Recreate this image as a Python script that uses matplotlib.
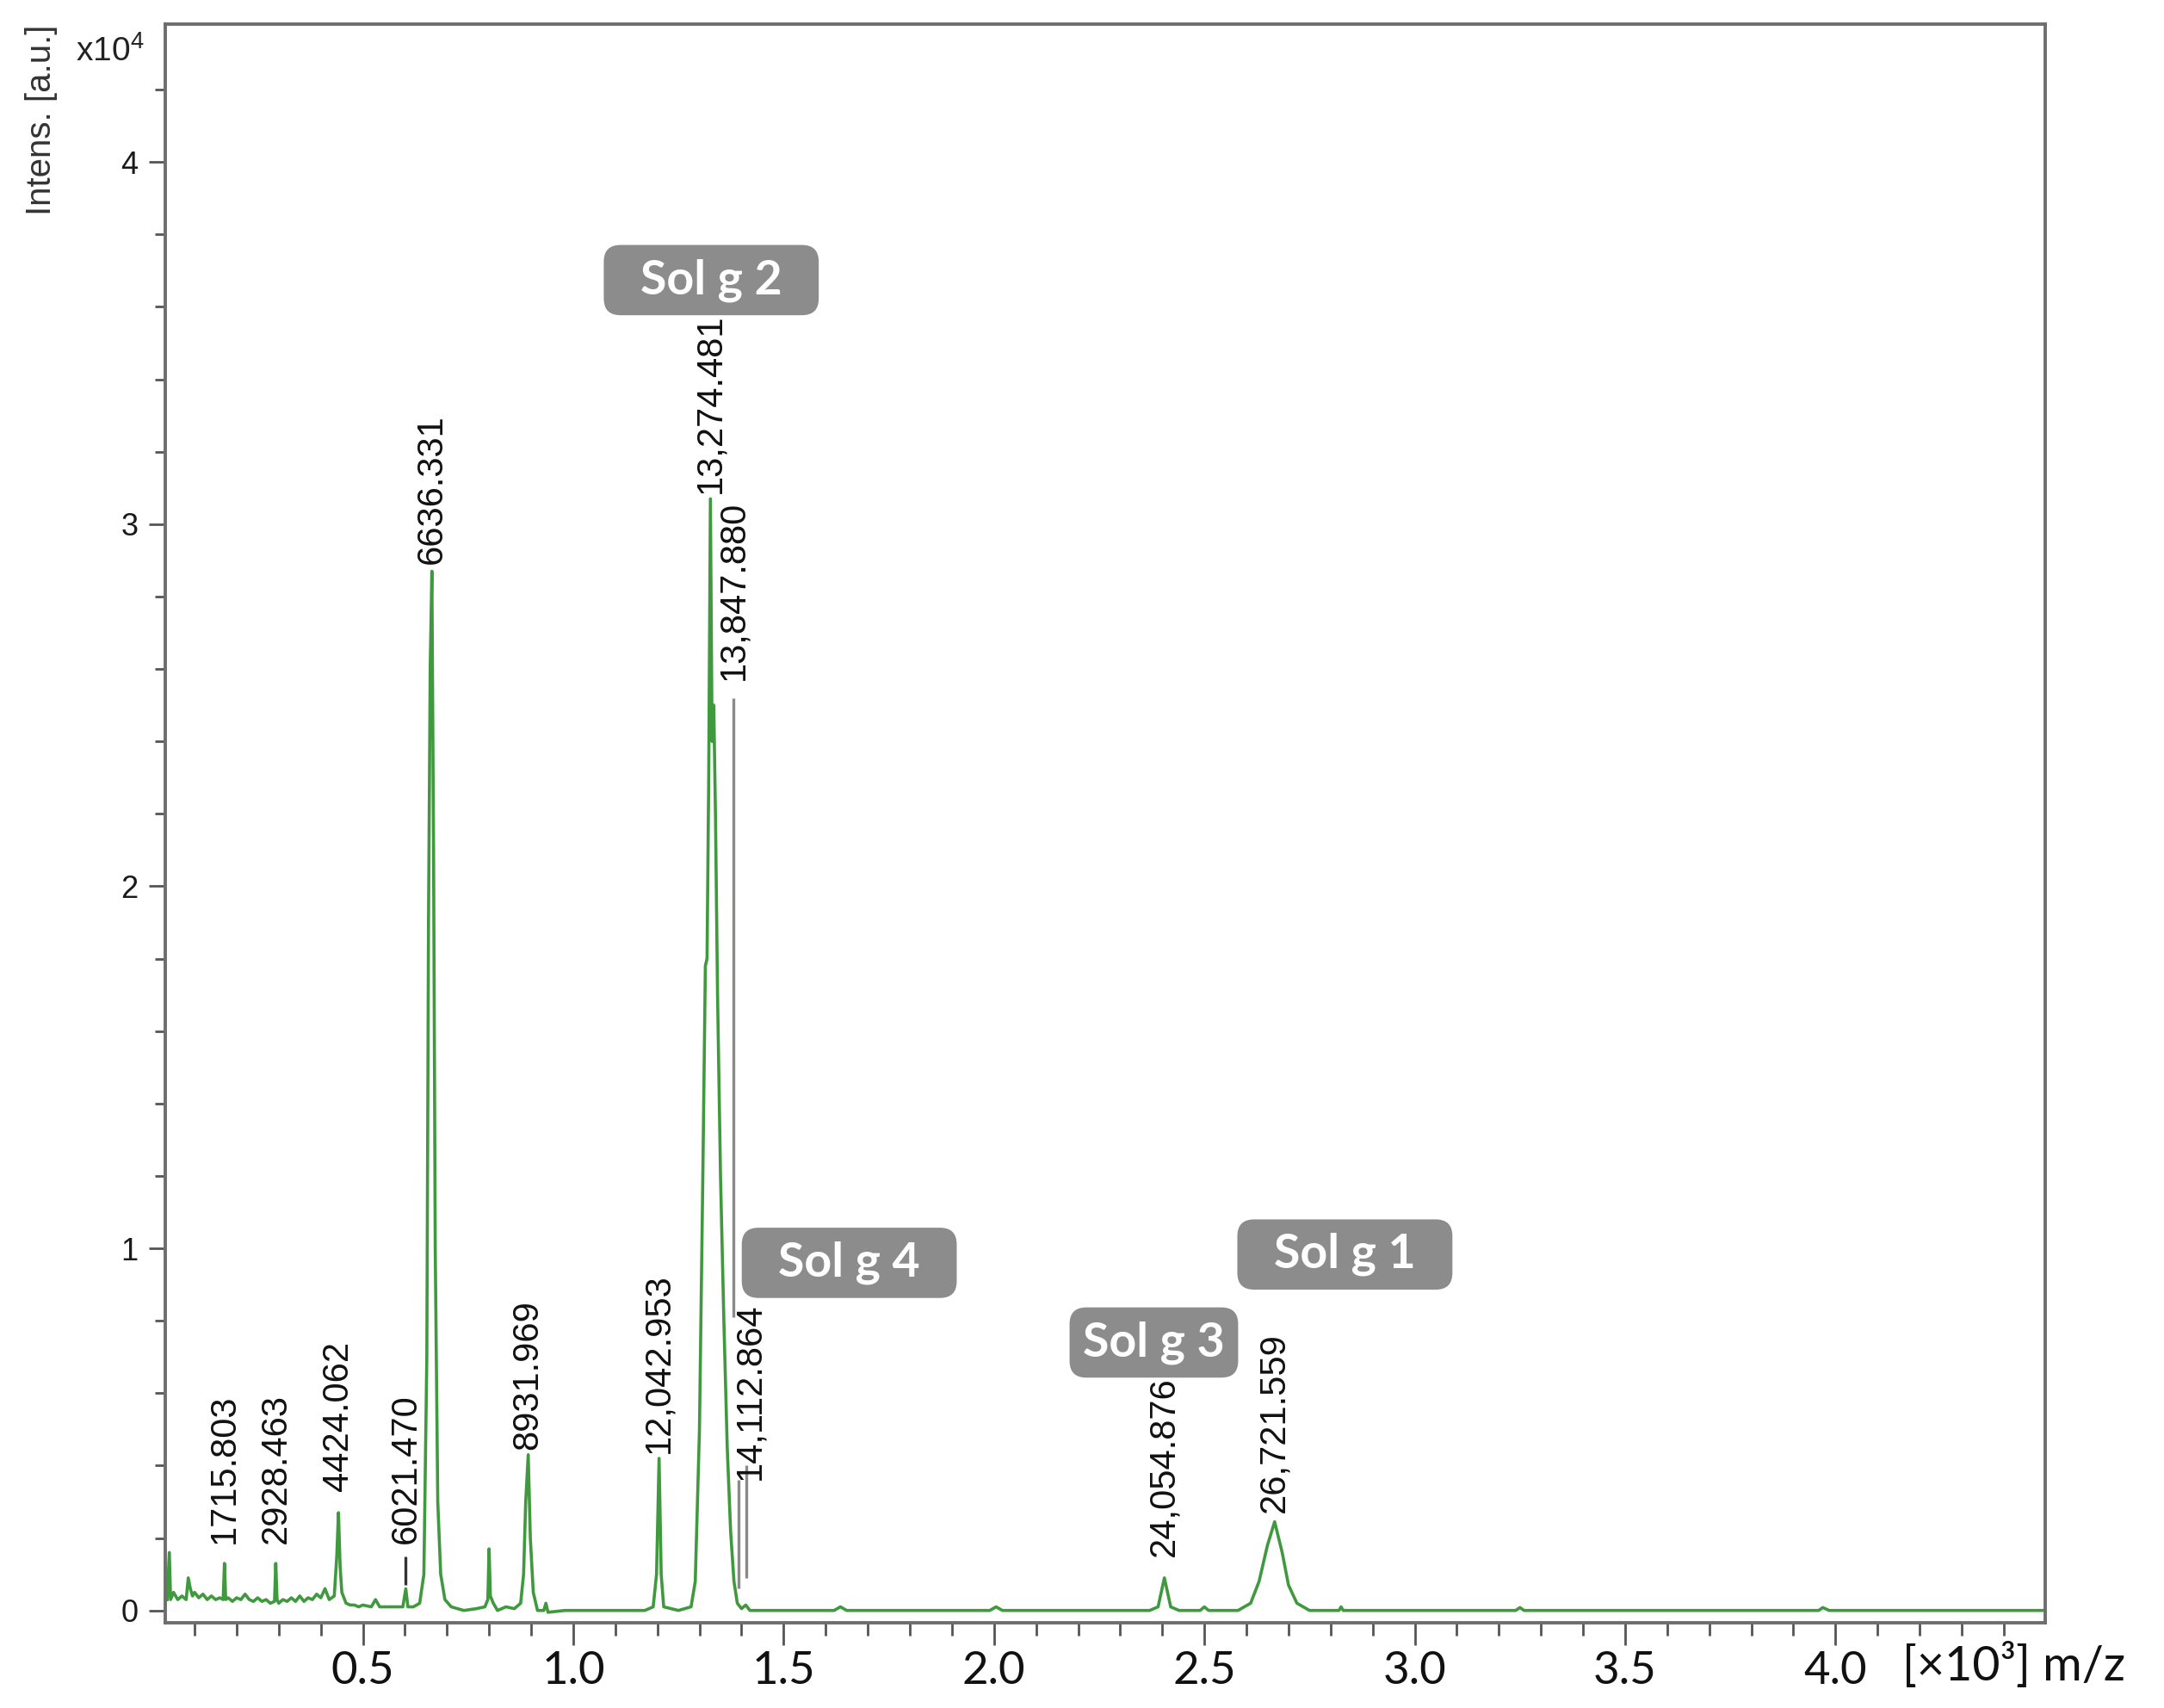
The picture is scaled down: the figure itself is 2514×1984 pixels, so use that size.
import numpy as np
import matplotlib.pyplot as plt
from matplotlib.ticker import MultipleLocator

plt.rcParams['mathtext.fontset'] = 'custom'
plt.rcParams['mathtext.rm'] = 'Liberation Sans'

# spectrum trace (x in [x10^3] m/z axis units, y in x10^4 a.u.)
trace_x = [0.035, 0.040, 0.043, 0.050, 0.060, 0.070, 0.080, 0.085, 0.090, 0.095, 0.100,
           0.110, 0.120, 0.130, 0.140, 0.150, 0.160, 0.168, 0.171, 0.174, 0.180,
           0.190, 0.200, 0.210, 0.220, 0.230, 0.240, 0.250, 0.260, 0.270, 0.280,
           0.290, 0.293, 0.296, 0.300, 0.310, 0.320, 0.330, 0.340, 0.350, 0.360,
           0.370, 0.380, 0.390, 0.400, 0.410, 0.420, 0.432, 0.438, 0.442, 0.446,
           0.450, 0.460, 0.470, 0.480, 0.490, 0.500, 0.520, 0.530, 0.540, 0.560,
           0.580, 0.595, 0.602, 0.607, 0.620, 0.635,
           0.645, 0.652, 0.656, 0.660, 0.664, 0.668, 0.672, 0.678, 0.685, 0.695,
           0.710, 0.740, 0.770, 0.790,
           0.797, 0.800, 0.803, 0.810, 0.820, 0.840, 0.860, 0.875,
           0.882, 0.887, 0.893, 0.898, 0.905, 0.915, 0.930, 0.935, 0.940, 0.980,
           1.050, 1.100, 1.170, 1.190,
           1.198, 1.204, 1.209, 1.215, 1.250, 1.280,
           1.290, 1.300, 1.308, 1.314, 1.318, 1.322, 1.326, 1.330, 1.334, 1.338,
           1.343, 1.350, 1.358, 1.366, 1.374, 1.382, 1.390, 1.400, 1.410, 1.420,
           1.500, 1.620, 1.635, 1.650, 1.990, 2.005, 2.020,
           2.370, 2.390, 2.405, 2.420, 2.440, 2.490, 2.500, 2.510,
           2.580, 2.610, 2.630, 2.650, 2.667, 2.685, 2.700, 2.720, 2.750,
           2.820, 2.825, 2.830, 3.240, 3.250, 3.260, 3.960, 3.970, 3.985, 4.500]
trace_y = [0.030, 0.160, 0.030, 0.050, 0.030, 0.040, 0.030, 0.090, 0.060, 0.040, 0.050,
           0.035, 0.045, 0.030, 0.040, 0.030, 0.035, 0.030, 0.130, 0.030, 0.035,
           0.025, 0.035, 0.030, 0.045, 0.030, 0.025, 0.035, 0.025, 0.030, 0.020,
           0.025, 0.130, 0.030, 0.020, 0.030, 0.025, 0.035, 0.025, 0.040, 0.025,
           0.035, 0.030, 0.045, 0.035, 0.060, 0.030, 0.040, 0.150, 0.270, 0.120,
           0.050, 0.020, 0.015, 0.015, 0.010, 0.015, 0.010, 0.030, 0.010, 0.010,
           0.010, 0.010, 0.060, 0.010, 0.010, 0.020,
           0.100, 0.700, 1.900, 2.600, 2.870, 2.100, 1.000, 0.300, 0.100, 0.030,
           0.010, 0.000, 0.005, 0.010,
           0.030, 0.170, 0.040, 0.020, 0.000, 0.010, 0.005, 0.020,
           0.100, 0.300, 0.430, 0.200, 0.050, 0.000, 0.000, 0.020, -0.005, 0.000,
           0.000, 0.000, 0.000, 0.010,
           0.100, 0.420, 0.100, 0.010, 0.000, 0.010,
           0.080, 0.500, 1.200, 1.780, 1.800, 2.300, 3.070, 2.400, 2.500, 2.200,
           1.700, 1.200, 0.800, 0.450, 0.220, 0.080, 0.020, 0.005, 0.015, 0.000,
           0.000, 0.000, 0.010, 0.000, 0.000, 0.010, 0.000,
           0.000, 0.010, 0.090, 0.010, 0.000, 0.000, 0.010, 0.000,
           0.000, 0.020, 0.080, 0.180, 0.245, 0.160, 0.070, 0.020, 0.000,
           0.000, 0.010, 0.000, 0.000, 0.008, 0.000, 0.000, 0.008, 0.000, 0.000]

peak_labels = ["1715.803", "2928.463", "4424.062", "6021.470", "6636.331", "8931.969",
               "12,042.953", "13,274.481", "13,847.880", "14,112.864",
               "24,054.876", "26,721.559"]
peak_x = [0.171, 0.293, 0.442, 0.602, 0.664, 0.893,
          1.204, 1.326, 1.382, 1.420, 2.405, 2.667]
label_y = [0.185, 0.185, 0.330, 0.185, 2.890, 0.445,
           0.435, 3.085, 2.570, 0.360, 0.150, 0.270]

marker_x = [0.602, 1.380, 1.392, 1.411]
marker_lo = [0.070, 0.810, 0.060, 0.090]
marker_hi = [0.150, 2.520, 0.360, 0.400]
marker_col = ["#333333", "#8a8a8a", "#8a8a8a", "#8a8a8a"]

sol_names = ["Sol g 2", "Sol g 4", "Sol g 3", "Sol g 1"]
sol_x = [1.328, 1.656, 2.380, 2.834]
sol_y = [3.674, 0.960, 0.740, 0.983]
sol_spaces = [2, 2, 0, 2]

fig = plt.figure(figsize=(25.14, 19.84), dpi=100)
ax = fig.add_axes([0.0765, 0.0499, 0.8687, 0.936])

ax.plot(trace_x, trace_y, color="#40993f", lw=2.6, solid_joinstyle="round")
ax.vlines(marker_x, marker_lo, marker_hi, colors=marker_col, lw=2.4)

for lab, px, py in zip(peak_labels, peak_x, label_y):
    ax.text(px, py, lab, rotation=90, ha="center", va="bottom",
            fontsize=30, family="Liberation Sans", color="#111111")

for name, sx, sy, ns in zip(sol_names, sol_x, sol_y, sol_spaces):
    ax.text(sx, sy, " " * ns + name + " " * ns, ha="center", va="center",
            fontsize=40, family="Lato", weight="bold", color="white",
            bbox=dict(boxstyle="round,pad=0.28,rounding_size=0.35",
                      fc="#8c8c8c", ec="none"))

ax.set_xlim(0.031, 4.499)
ax.set_ylim(-0.034, 4.381)

ax.set_xticks([0.5, 1.0, 1.5, 2.0, 2.5, 3.0, 3.5, 4.0])
ax.set_xticklabels(["0.5", "1.0", "1.5", "2.0", "2.5", "3.0", "3.5", "4.0"])
ax.xaxis.set_minor_locator(MultipleLocator(0.1))
ax.set_yticks([0, 1, 2, 3, 4])
ax.yaxis.set_minor_locator(MultipleLocator(0.2))

for s in ax.spines.values():
    s.set_color("#6e6e6e")
    s.set_linewidth(2.8)

ax.tick_params(axis="x", which="major", length=19, width=2, color="#555555", pad=5)
ax.tick_params(axis="x", which="minor", length=11, width=2, color="#555555")
ax.tick_params(axis="y", which="major", length=14, width=2, color="#555555", pad=9)
ax.tick_params(axis="y", which="minor", length=9, width=2, color="#555555")

for t in ax.get_xticklabels():
    t.set_family("Lato")
    t.set_fontsize(38)
    t.set_color("#111111")
for t in ax.get_yticklabels():
    t.set_family("Liberation Sans")
    t.set_fontsize(26)
    t.set_color("#1a1a1a")

fig.text(0.879, 0.0247, "[\u00d710\u00b3] m/z", family="Lato", fontsize=40,
         ha="left", va="center", color="#111111")
fig.text(0.035, 0.970, r"x10$^{4}$", family="Liberation Sans",
         fontsize=28, ha="left", va="center", color="#222222")
fig.text(0.019, 0.930, "Intens. [a.u.]", family="Liberation Sans", fontsize=29,
         rotation=90, ha="center", va="center", color="#333333")

fig.savefig("out.png", dpi=100)
